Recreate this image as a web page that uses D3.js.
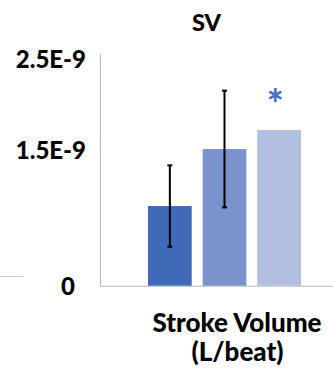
<!DOCTYPE html>
<html><head><meta charset="utf-8">
<script src="https://cdn.jsdelivr.net/npm/d3@7"></script>
<style>body{margin:0;background:#fff}svg{display:block}text{font-family:Lato,"Open Sans",sans-serif;font-weight:900}</style>
</head><body>
<script>
const series = ["A", "B", "C"];
const values = [0.88e-9, 1.51e-9, 1.72e-9];
const errors = [0.45e-9, 0.645e-9, 0];
const significant = [false, false, true];
const colors = ["#3f6ab8", "#7a93cd", "#b3bfe0"];
const tickValues = [0, 1.5e-9, 2.5e-9];
const tickLabels = ["0", "1.5E-9", "2.5E-9"];
const title = "SV";
const xLabel = ["Stroke Volume", "(L/beat)"];

const W = 333, H = 373;
const svg = d3.select("body").append("svg").attr("width", W).attr("height", H);

const y = d3.scaleLinear().domain([0, 2.56e-9]).range([285.7, 54]);
const x = d3.scaleBand().domain(series).range([148, 301]).paddingInner(0.2);

// axes lines
svg.append("line").attr("x1", 100.5).attr("x2", 100.5).attr("y1", y.range()[1]).attr("y2", y(0))
  .attr("stroke", "#b4b4b4").attr("stroke-width", 1);
svg.append("line").attr("x1", 100).attr("x2", W).attr("y1", y(0)+0.5).attr("y2", y(0)+0.5)
  .attr("stroke", "#b4b4b4").attr("stroke-width", 1);
// stray legend line at left
svg.append("line").attr("x1", 0).attr("x2", 23).attr("y1", 276.5).attr("y2", 276.5)
  .attr("stroke", "#c8c8c8").attr("stroke-width", 1);

// tick labels
svg.selectAll(".tick").data(tickValues).enter().append("text")
  .attr("x", d => d === 0 ? 68 : 86)
  .attr("y", d => y(d) + 9)
  .attr("text-anchor", d => d === 0 ? "middle" : "end")
  .attr("font-size", 24).attr("fill", "#000")
  .text((d, i) => tickLabels[i]);

// bars
svg.selectAll(".bar").data(values).enter().append("rect")
  .attr("x", (d, i) => x(series[i]))
  .attr("y", d => y(d))
  .attr("width", x.bandwidth())
  .attr("height", d => y(0) - y(d))
  .attr("fill", (d, i) => colors[i]);

// error bars
values.forEach((v, i) => {
  if (!errors[i]) return;
  const cx = x(series[i]) + x.bandwidth() / 2;
  const g = svg.append("g").attr("stroke", "#000").attr("stroke-width", 2);
  g.append("line").attr("x1", cx).attr("x2", cx).attr("y1", y(v + errors[i])).attr("y2", y(v - errors[i]));
  g.append("line").attr("x1", cx - 2.5).attr("x2", cx + 2.5).attr("y1", y(v + errors[i])).attr("y2", y(v + errors[i]));
  g.append("line").attr("x1", cx - 2.5).attr("x2", cx + 2.5).attr("y1", y(v - errors[i])).attr("y2", y(v - errors[i]));
});

// significance
values.forEach((v, i) => {
  if (!significant[i]) return;
  svg.append("text").attr("x", x(series[i]) + x.bandwidth() / 2 - 4).attr("y", y(v) - 11)
    .attr("text-anchor", "middle").attr("font-size", 40).attr("fill", "#4472c4").text("*");
});

// title
svg.append("text").attr("x", 206.5).attr("y", 31).attr("text-anchor", "middle")
  .attr("font-size", 23.5).attr("fill", "#000").text(title);

// x label
svg.append("text").attr("x", 237).attr("y", 332).attr("text-anchor", "middle")
  .attr("font-size", 26).attr("fill", "#000").text(xLabel[0]);
svg.append("text").attr("x", 237.5).attr("y", 361).attr("text-anchor", "middle")
  .attr("font-size", 26).attr("fill", "#000").text(xLabel[1]);
</script>
</body></html>
